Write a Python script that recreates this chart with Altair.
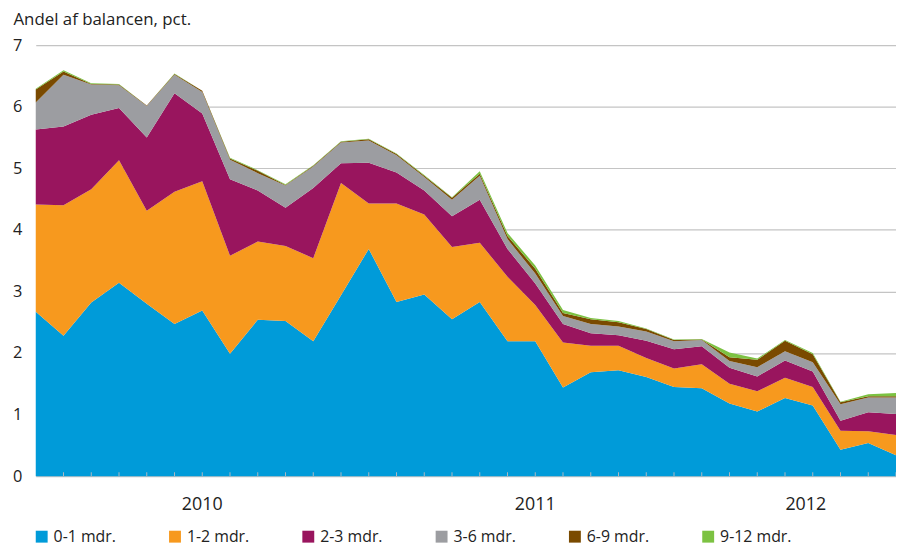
import altair as alt
import pandas as pd

# Monthly observations, Jan 2010 .. Aug 2012 (index 0..31)
months = list(range(32))
series = ["0-1 mdr.", "1-2 mdr.", "2-3 mdr.", "3-6 mdr.", "6-9 mdr.", "9-12 mdr."]
colors = ["#009bd9", "#f7991e", "#99155e", "#9c9da1", "#7a4a00", "#7cc242"]

v_0_1 = [2.67, 2.28, 2.82, 3.14, 2.80, 2.47, 2.69, 1.99, 2.54, 2.52, 2.19, 2.94,
         3.69, 2.83, 2.95, 2.55, 2.83, 2.19, 2.19, 1.44, 1.69, 1.72, 1.61, 1.45,
         1.43, 1.18, 1.05, 1.27, 1.15, 0.43, 0.54, 0.34]
v_1_2 = [1.74, 2.12, 1.84, 1.99, 1.51, 2.15, 2.10, 1.59, 1.27, 1.22, 1.35, 1.82,
         0.74, 1.60, 1.30, 1.17, 0.96, 1.05, 0.59, 0.73, 0.43, 0.40, 0.31, 0.30,
         0.39, 0.32, 0.33, 0.33, 0.30, 0.31, 0.19, 0.33]
v_2_3 = [1.22, 1.28, 1.21, 0.85, 1.19, 1.60, 1.10, 1.24, 0.83, 0.62, 1.14, 0.32,
         0.66, 0.50, 0.39, 0.50, 0.70, 0.45, 0.35, 0.30, 0.20, 0.17, 0.28, 0.31,
         0.29, 0.26, 0.24, 0.28, 0.25, 0.16, 0.31, 0.34]
v_3_6 = [0.44, 0.84, 0.49, 0.37, 0.51, 0.30, 0.35, 0.32, 0.28, 0.36, 0.35, 0.34,
         0.36, 0.28, 0.22, 0.27, 0.39, 0.16, 0.16, 0.13, 0.15, 0.14, 0.15, 0.13,
         0.10, 0.11, 0.15, 0.15, 0.15, 0.27, 0.24, 0.27]
v_6_9 = [0.21, 0.05, 0.01, 0.01, 0.01, 0.01, 0.02, 0.02, 0.04, 0.01, 0.01, 0.01,
         0.02, 0.02, 0.02, 0.03, 0.03, 0.05, 0.08, 0.05, 0.08, 0.07, 0.04, 0.02,
         0.01, 0.06, 0.12, 0.17, 0.13, 0.03, 0.02, 0.02]
v_9_12 = [0.01, 0.02, 0.01, 0.01, 0.00, 0.01, 0.00, 0.01, 0.01, 0.01, 0.01, 0.01,
          0.01, 0.01, 0.01, 0.01, 0.04, 0.05, 0.05, 0.05, 0.02, 0.02, 0.01, 0.01,
          0.01, 0.08, 0.02, 0.01, 0.02, 0.01, 0.03, 0.05]

years = ["2010", "2011", "2012"]
year_mid = [6, 18, 27.75]
year_starts = [0, 12, 24]

values = [v_0_1, v_1_2, v_2_3, v_3_6, v_6_9, v_9_12]
rows = []
for i, (name, vals) in enumerate(zip(series, values)):
    for k, v in zip(months, vals):
        rows.append({"k": k, "series": name, "value": v, "order": i})
df = pd.DataFrame(rows)

FONT = "Open Sans"
TXT = "#222222"
W, H = 868, 435

xscale = alt.Scale(domain=[0, 31], nice=False, zero=False)

area = alt.Chart(df).mark_area(interpolate="linear").encode(
    x=alt.X("k:Q", scale=xscale,
            axis=alt.Axis(values=year_starts, labels=False, tickSize=7,
                          tickColor="#a8a8a8", tickWidth=1, domainColor="#b8b8b8",
                          domainWidth=1.2, grid=False, title=None, zindex=1)),
    y=alt.Y("value:Q", stack="zero",
            scale=alt.Scale(domain=[0, 7], nice=False),
            axis=alt.Axis(values=list(range(8)), grid=True, gridColor="#c4c4c4",
                          gridWidth=1.2, domain=False, ticks=False, tickSize=0,
                          labelFontSize=16.5, labelFont=FONT, labelColor=TXT,
                          labelPadding=14,
                          title="Andel af balancen, pct.", titleAngle=0,
                          titleAlign="left", titleBaseline="middle",
                          titleX=-23, titleY=-26, titleFont=FONT,
                          titleFontSize=17, titleFontWeight="normal",
                          titleColor=TXT, zindex=0)),
    color=alt.Color("series:N", scale=alt.Scale(domain=series, range=colors),
                    legend=alt.Legend(title=None, orient="none", legendX=-2,
                                      legendY=488, direction="horizontal",
                                      symbolType="square", symbolSize=144,
                                      symbolStrokeWidth=0, symbolOpacity=1,
                                      labelFont=FONT, labelFontSize=16,
                                      labelColor=TXT, columnPadding=51.5,
                                      labelOffset=4)),
    order=alt.Order("order:Q", sort="ascending"),
)

minor = alt.Chart(pd.DataFrame({"k": months[1:]})).mark_rule(
    color="#b0b8c0", strokeWidth=1
).encode(x=alt.X("k:Q", scale=xscale, axis=None),
         y=alt.value(H - 4), y2=alt.value(H))

year_text = alt.Chart(pd.DataFrame({"year": years, "mid": year_mid})).mark_text(
    font=FONT, fontSize=18, color=TXT, baseline="middle"
).encode(x=alt.X("mid:Q", scale=xscale, axis=None), y=alt.value(H + 29),
         text="year:N")

chart = alt.layer(area, minor, year_text).properties(
    width=W, height=H,
    padding={"left": 28, "top": 35, "right": 0, "bottom": 71},
    autosize=alt.AutoSizeParams(type="none"),
    background="white",
).configure_view(stroke=None)

chart.save("out.html", embed_options={"renderer": "svg", "actions": False})
